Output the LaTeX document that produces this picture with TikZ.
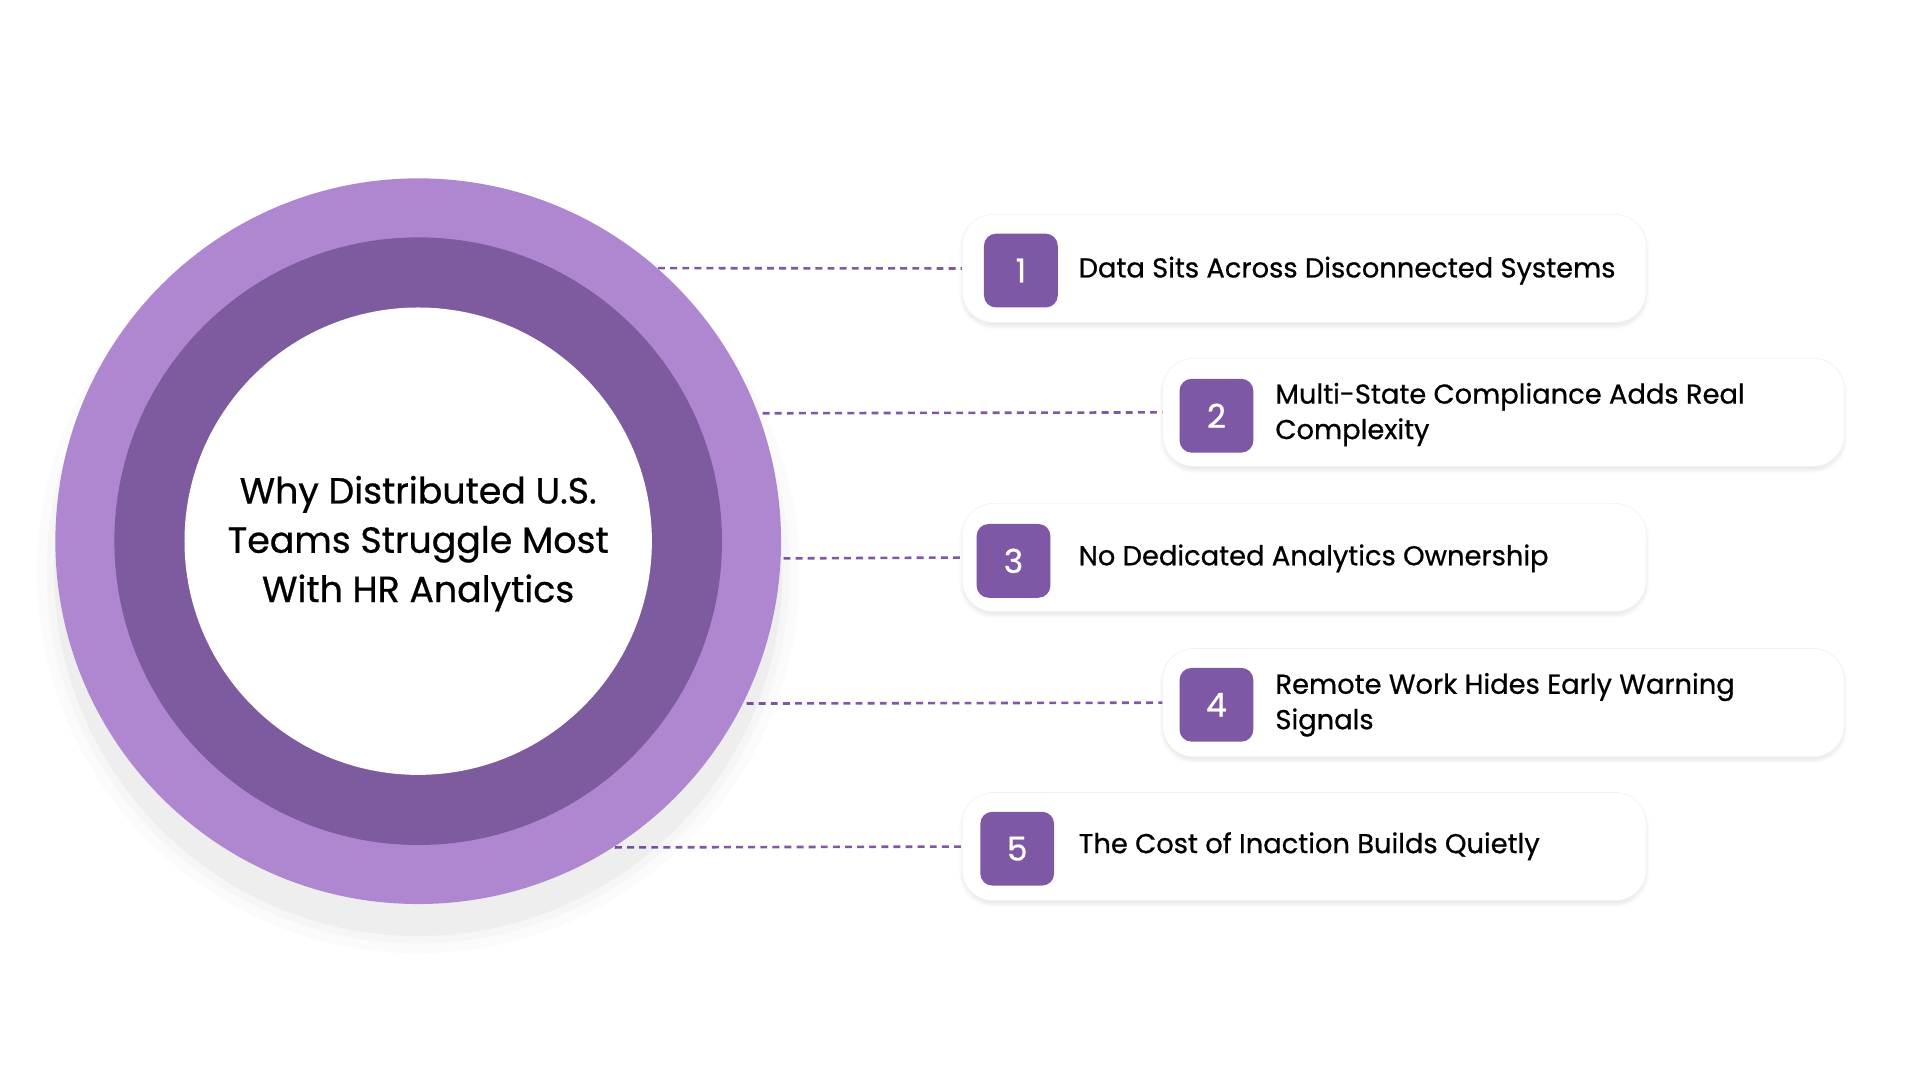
\documentclass[tikz,border=0pt]{standalone}
\usepackage{fontspec}
\setmainfont{Poppins}[FakeBold=0.7]
\usetikzlibrary{shadows,shadows.blur}
\definecolor{ringout}{HTML}{AE87D0}
\definecolor{ringin}{HTML}{7E5A9E}
\definecolor{badge}{HTML}{7E57A5}
\tikzset{
  card/.style={draw=black!5,fill=white,rounded corners=18pt,blur shadow={shadow blur steps=8,shadow xshift=0pt,shadow yshift=-2pt,shadow opacity=10},anchor=north west},
  num/.style={fill=badge,rounded corners=7pt,minimum size=1.5cm,text=white,font=\fontsize{19}{24}\selectfont},
  lbl/.style={anchor=west,align=left,font=\fontsize{15.8}{20.5}\selectfont},
  link/.style={draw=badge,line width=1.5pt,dash pattern=on 4pt off 3pt}
}
\begin{document}
\begin{tikzpicture}[x=0.025cm,y=-0.025cm]
  \useasboundingbox (0,0) rectangle (1561,878);

  % connectors
  \coordinate (e1) at (535,218);
  \coordinate (e2) at (620,336);
  \coordinate (e3) at (637,454);
  \coordinate (e4) at (607,572);
  \coordinate (e5) at (500,689);

  % cards
  \node[card,minimum width=13.9cm,minimum height=2.2cm] (card1) at (782,174) {};
  \node[card,minimum width=13.85cm,minimum height=2.2cm] (card2) at (945,291) {};
  \node[card,minimum width=13.9cm,minimum height=2.2cm] (card3) at (782,409) {};
  \node[card,minimum width=13.85cm,minimum height=2.2cm] (card4) at (945,527) {};
  \node[card,minimum width=13.9cm,minimum height=2.2cm] (card5) at (782,644) {};

  \foreach \i in {1,...,5} \draw[link] (e\i) -- (card\i.west);

  \node[num] (n1) at (830,220) {1};
  \node[num] (n2) at (989,338) {2};
  \node[num] (n3) at (824,456) {3};
  \node[num] (n4) at (989,573) {4};
  \node[num] (n5) at (827,690) {5};

  \node[lbl] (t1) at (872,220) {Data Sits Across Disconnected Systems};
  \node[lbl] (t2) at (1032,337) {Multi-State Compliance Adds Real\\Complexity};
  \node[lbl] (t3) at (872,454) {No Dedicated Analytics Ownership};
  \node[lbl] (t4) at (1032,573) {Remote Work Hides Early Warning\\Signals};
  \node[lbl] (t5) at (872,688) {The Cost of Inaction Builds Quietly};

  % rings
  \foreach \r/\o in {310/0.015,302/0.02,296/0.03} \fill[black,opacity=\o] (340,465) circle (\r);
  \fill[ringout] (340,440) circle (295);
  \fill[ringin] (340,440) circle (247);
  \fill[white] (340,440) circle (190);
  \node[align=center,font=\fontsize{21}{28.5}\selectfont] (title) at (340,442)
    {Why Distributed U.S.\\Teams Struggle Most\\With HR Analytics};
\end{tikzpicture}
\end{document}
